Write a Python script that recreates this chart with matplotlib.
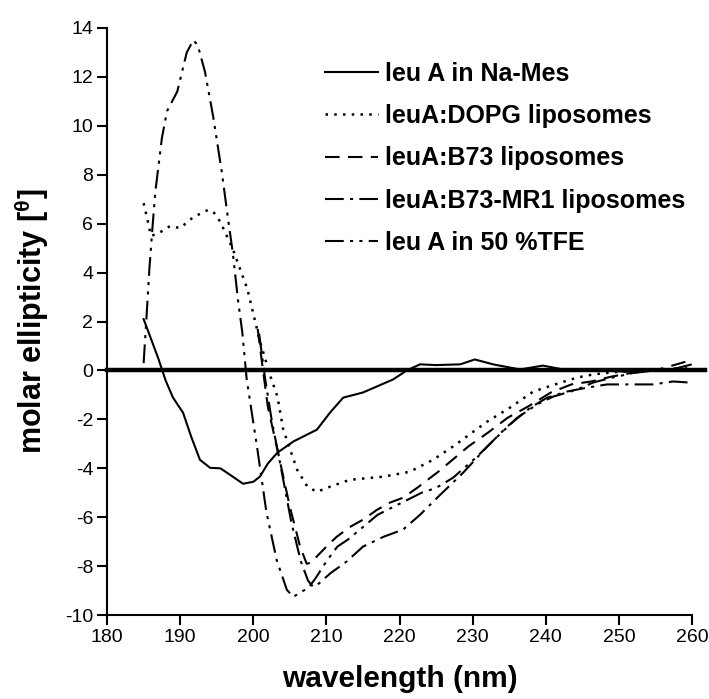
import matplotlib
matplotlib.use('Agg')
import matplotlib.pyplot as plt

plt.rcParams['font.family'] = ['Liberation Sans', 'DejaVu Sans']
plt.rcParams['axes.unicode_minus'] = False

# leu A in Na-Mes (linea continua)
wl_mes = [185, 186, 187, 188, 189, 190.4, 191.5, 192.7, 194.1, 195.5, 196.8, 198.6,
          200, 200.9, 202, 203.3, 205.5, 208.7, 210.5, 212.3, 215, 219.1, 221, 222.8,
          225, 228.3, 230.3, 232.8, 236.5, 239.6, 242.4, 245, 248, 251, 254, 257, 260]
cd_mes = [2.1, 1.3, 0.5, -0.4, -1.1, -1.73, -2.7, -3.65, -3.98, -4.0, -4.26, -4.63,
          -4.55, -4.34, -3.8, -3.36, -2.9, -2.42, -1.72, -1.11, -0.9, -0.37, 0.0, 0.25,
          0.22, 0.25, 0.45, 0.25, 0.04, 0.2, 0.04, 0.0, 0.0, -0.05, 0.0, 0.0, 0.0]

# leuA:DOPG liposomes (puntinata)
wl_dopg = [185, 185.5, 186, 187, 188.6, 190, 191.8, 193.8, 194.5, 195.5, 197.2, 199.2,
           200.9, 202.3, 203.3, 204.1, 206, 207.4, 208.7, 210.5, 213.2, 217.8, 221.4,
           224.6, 227.3, 232, 235.1, 238.3, 242, 244.3, 246.5, 250, 255, 260]
cd_dopg = [6.84, 6.2, 5.5, 5.6, 5.9, 5.82, 6.27, 6.56, 6.5, 6.07, 4.96, 3.32,
           1.2, -0.2, -1.07, -2.42, -4.06, -4.75, -4.96, -4.75, -4.47, -4.34, -4.14,
           -3.65, -3.11, -2.09, -1.52, -0.86, -0.5, -0.29, -0.16, -0.05, 0.0, 0.1]

# leuA:B73 liposomes (tratteggiata)
wl_b73 = [200.6, 201.2, 202, 203.2, 205, 206.4, 207.3, 208, 208.7, 210, 211.4, 213.2,
          215, 216.9, 218.7, 220.5, 222.4, 225.3, 229.4, 232.1, 234.8, 237.6, 240.7,
          243.5, 246.2, 249, 251.7, 255.4, 259.3, 260]
cd_b73 = [1.7, 0.3, -1.5, -3.1, -5.57, -7.2, -7.9, -7.85, -7.6, -7.2, -6.8, -6.4,
          -6.1, -5.7, -5.4, -5.2, -4.8, -4.14, -3.11, -2.54, -1.93, -1.47, -0.9,
          -0.57, -0.45, -0.25, -0.1, 0.04, 0.37, 0.4]

# leuA:B73-MR1 liposomes (tratto-punto)
wl_mr1 = [200.8, 201.6, 202.5, 203.8, 205.2, 206.5, 207.5, 208.2, 209, 210.5, 212.8,
          215, 217.8, 220.5, 222.8, 225.5, 228.7, 232, 234.7, 237.9, 240.2, 242.9,
          245.7, 248.4, 252, 254.7, 257.4, 260]
cd_mr1 = [1.5, -0.3, -2.0, -4.0, -6.2, -7.8, -8.6, -8.85, -8.7, -8.3, -7.8,
          -7.2, -6.8, -6.5, -5.9, -5.1, -4.18, -3.11, -2.3, -1.52, -1.11, -0.86,
          -0.7, -0.57, -0.57, -0.57, -0.45, -0.5]

# leu A in 50 % TFE (tratto-punto-punto)
wl_tfe = [185, 185.4, 185.8, 186.2, 186.6, 187.5, 188.2, 189.6, 190.9, 191.8, 192.4,
          193.4, 194.5, 195.7, 196.5, 197.2, 197.9, 198.5, 199.1, 200.5, 201.8, 203.2,
          204.6, 205.5, 206.2, 207.5, 208.5, 210, 211.5, 213, 215, 217, 219, 221, 223,
          225, 227.3, 230.6, 233.4, 236.1, 238.8, 241, 244.3, 246.5, 249, 252, 255,
          258, 260]
cd_tfe = [0.3, 2.2, 4.2, 5.8, 7.3, 9.5, 10.6, 11.4, 13.0, 13.5, 13.3,
          12.2, 10.4, 8.1, 6.3, 4.8, 2.9, 1.55, -0.37, -3.1, -5.8, -7.75,
          -8.97, -9.26, -9.1, -8.9, -8.5, -7.8, -7.2, -6.9, -6.4, -5.9, -5.6, -5.3, -5.0,
          -4.8, -4.39, -3.52, -2.7, -1.93, -1.39, -1.07, -0.78, -0.49, -0.3, -0.1, 0.0,
          0.1, 0.25]

labels = ['leu A in Na-Mes', 'leuA:DOPG liposomes', 'leuA:B73 liposomes',
          'leuA:B73-MR1 liposomes', 'leu A in 50 %TFE']

fig = plt.figure(figsize=(7.09, 6.99), dpi=100)
ax = fig.add_axes([0.151, 0.120, 0.825, 0.840])

lw = 1.5
ax.plot(wl_mes, cd_mes, color='black', lw=lw, linestyle='-', label=labels[0])
ax.plot(wl_dopg, cd_dopg, color='black', lw=lw + 0.3, linestyle=(0, (1, 2.5)), label=labels[1])
ax.plot(wl_b73, cd_b73, color='black', lw=lw, linestyle=(0, (7, 4)), label=labels[2])
ax.plot(wl_mr1, cd_mr1, color='black', lw=lw, linestyle=(0, (9, 3, 1.5, 3)), label=labels[3])
ax.plot(wl_tfe, cd_tfe, color='black', lw=lw, linestyle=(0, (9, 3, 1.5, 3, 1.5, 3)), label=labels[4])

# linea dello zero spessa, esce un po' oltre l'asse
ax.axhline(0, xmin=0, xmax=1.022, color='black', lw=3.2, clip_on=False, zorder=5)

ax.set_xlim(180, 260)
ax.set_ylim(-10, 14)
ax.set_xticks(range(180, 261, 10))
ax.set_yticks(range(-10, 15, 2))

for spine in ['top', 'right']:
    ax.spines[spine].set_visible(False)
for spine in ['left', 'bottom']:
    ax.spines[spine].set_linewidth(1.5)

ax.tick_params(direction='out', length=7, width=1.5, labelsize=14, pad=3)

ax.set_xlabel('wavelength (nm)', fontsize=21.5, fontweight='bold', labelpad=14)
ax.set_ylabel('molar ellipticity [$^{\\mathregular{θ}}$]', fontsize=22, fontweight='bold', labelpad=10)

leg = ax.legend(loc='center left', bbox_to_anchor=(0.373, 0.778), frameon=False,
                borderaxespad=0, borderpad=0, handlelength=2.1, handletextpad=0.3,
                labelspacing=0.73, prop={'size': 18, 'weight': 'bold'})

plt.savefig('out.png', dpi=100)
plt.close()
